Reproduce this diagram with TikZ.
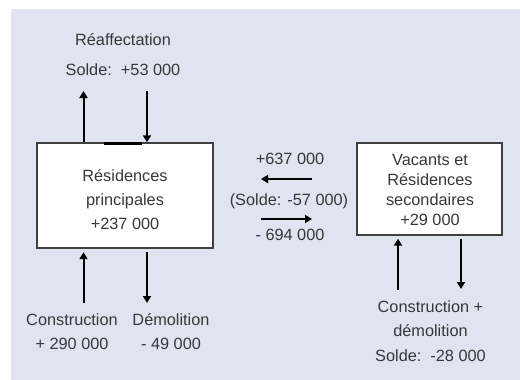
\documentclass[tikz,border=0pt]{standalone}
\usepackage{fontspec}
\setmainfont{Liberation Sans}
\usepackage{tikz}
\usetikzlibrary{arrows.meta,positioning}
\definecolor{bgFlux}{rgb}{0.88,0.89,0.94}
\definecolor{textFlux}{rgb}{0.22,0.22,0.22}
\definecolor{edgeFlux}{rgb}{0.25,0.25,0.25}

\begin{document}
\begin{tikzpicture}[x=1pt,y=-1pt,
    lbl/.style={text=textFlux, inner sep=0pt, align=center,
      font=\fontsize{16.3}{24}\selectfont},
    stock/.style={draw=edgeFlux, line width=1.4pt, fill=white, inner sep=0pt},
    flow/.style={line width=2pt, -{Triangle[width=8pt,length=7pt]}}]
  % background
  \useasboundingbox (0,0) rectangle (520,380);
  \fill[bgFlux] (11,9) rectangle (520,380);

  % boxes
  \node[stock, minimum width=176, minimum height=105] (rp) at (125,195.5) {};
  \node[lbl] (rptxt) at (125,200) {Résidences\\principales\\+237 000};
  \node[stock, minimum width=145, minimum height=92] (vrs) at (429.5,189) {};
  \node[lbl, font=\fontsize{16.3}{20}\selectfont] (vrstxt) at (430,190)
    {Vacants et\\Résidences\\secondaires\\+29 000};
  \draw[line width=3pt] (104,143) -- (142,143);

  % labels
  \node[lbl, font=\fontsize{16.3}{30}\selectfont] (reaf) at (123,55)
    {Réaffectation\\Solde:\ \ +53 000};
  \node[lbl] (cons) at (72,331.5) {Construction\\+ 290 000};
  \node[lbl] (demo) at (171,331.5) {Démolition\\- 49 000};
  \node[lbl, font=\fontsize{16.3}{24.5}\selectfont] (consdemo) at (430.5,331)
    {Construction +\\démolition\\Solde:\ \ -28 000};
  \node[lbl, anchor=base] (entree) at (290,164) {+637 000};
  \node[lbl, anchor=base] (solde) at (289,205) {(Solde: -57 000)};
  \node[lbl, anchor=base] (sortie) at (290,240) {- 694 000};

  % arrow ends
  \coordinate (reafup) at (83.5,91);
  \coordinate (reafdown) at (147,91);
  \coordinate (consup) at (83.5,303);
  \coordinate (demodown) at (147,303);
  \coordinate (vrsup) at (398,290);
  \coordinate (vrsdown) at (461,289);
  \coordinate (versrp) at (261,179);
  \coordinate (versvrs) at (312,219);

  % arrows
  \draw[flow] (rp.north -| reafup) -- (reafup);
  \draw[flow] (reafdown) -- (rp.north -| reafdown);
  \draw[flow, shorten >=3.5pt] (consup) -- (rp.south -| consup);
  \draw[flow, shorten <=3.5pt] (rp.south -| demodown) -- (demodown);
  \draw[flow, shorten >=3pt] (vrsup) -- (vrs.south -| vrsup);
  \draw[flow, shorten <=3pt] (vrs.south -| vrsdown) -- (vrsdown);
  \draw[flow] (versrp -| versvrs) -- (versrp);
  \draw[flow] (versvrs -| versrp) -- (versvrs);
\end{tikzpicture}
\end{document}
